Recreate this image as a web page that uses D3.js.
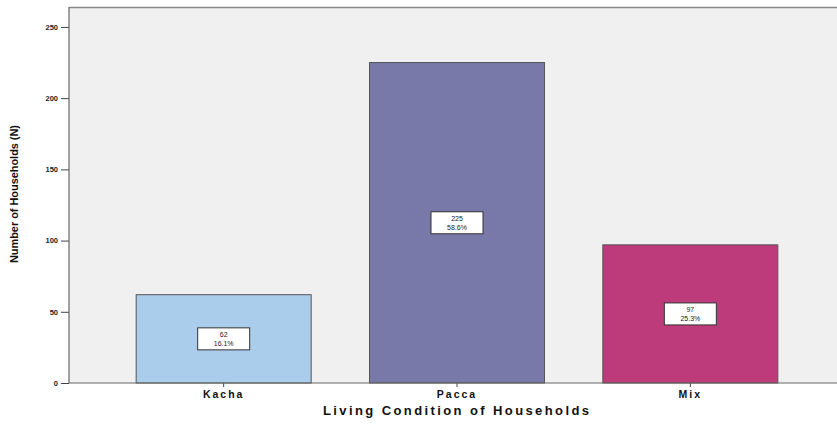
<!DOCTYPE html>
<html><head><meta charset="utf-8">
<script src="https://cdn.jsdelivr.net/npm/d3@7"></script>
<style>
html,body{margin:0;padding:0;background:#fff;}
svg{display:block;font-family:Arial, "Liberation Sans", sans-serif;}
</style></head>
<body>
<svg id="c" width="837" height="424"></svg>
<script>
const categories = ["Kacha", "Pacca", "Mix"];
const counts = [62, 225, 97];
const percents = ["16.1%", "58.6%", "25.3%"];
const yTicks = [0, 50, 100, 150, 200, 250];
const colors = ["#abcdec", "#7878a9", "#bd3a7b"];

(function () {
const svg = d3.select("#c");
const pLeft = 69, pRight = 837, pTop = 7, pBottom = 383;

const x = d3.scaleBand().domain(categories).range([107, 807]).paddingInner(0.25).paddingOuter(0.125);
const y = d3.scaleLinear().domain([0, 264]).range([pBottom, pTop]);

// plot background
svg.append("rect").attr("x", pLeft).attr("y", pTop).attr("width", pRight - pLeft).attr("height", pBottom - pTop)
  .attr("fill", "#f0f0f0");
svg.append("line").attr("x1", pLeft).attr("x2", pRight).attr("y1", pTop + 0.5).attr("y2", pTop + 0.5)
  .attr("stroke", "#8a8a8a").attr("stroke-width", 1.5);

// bars
svg.selectAll("rect.bar").data(categories).join("rect").attr("class", "bar")
  .attr("x", d => x(d)).attr("width", x.bandwidth())
  .attr("y", (d, i) => y(counts[i])).attr("height", (d, i) => y(0) - y(counts[i]))
  .attr("fill", (d, i) => colors[i]).attr("stroke", "#555").attr("stroke-width", 1);

// axes
const yAxis = d3.axisLeft(y).tickValues(yTicks).tickSize(8).tickPadding(3);
const gy = svg.append("g").attr("transform", `translate(${pLeft},0)`).call(yAxis);
gy.select(".domain").remove();
gy.selectAll(".tick line").attr("stroke", "#444");
gy.selectAll(".tick text").attr("font-size", 7.5).attr("font-weight", "bold").attr("fill", "#222");
svg.append("line").attr("x1", pLeft).attr("x2", pLeft).attr("y1", pTop).attr("y2", pBottom)
  .attr("stroke", "#666").attr("stroke-width", 1.2);

const xAxis = d3.axisBottom(x).tickSize(4).tickPadding(4);
const gx = svg.append("g").attr("transform", `translate(0,${pBottom})`).call(xAxis);
gx.select(".domain").remove();
gx.selectAll(".tick line").attr("stroke", "#444");
gx.selectAll(".tick text").attr("font-size", 10.5).attr("font-weight", "bold").attr("fill", "#111")
  .attr("letter-spacing", "2px");
svg.append("line").attr("x1", pLeft).attr("x2", pRight).attr("y1", pBottom).attr("y2", pBottom)
  .attr("stroke", "#666").attr("stroke-width", 1.2);

// axis titles
svg.append("text").attr("x", 456).attr("y", 415).attr("text-anchor", "middle")
  .attr("font-size", 13).attr("font-weight", "bold").attr("fill", "#111")
  .attr("textLength", 266).attr("lengthAdjust", "spacing")
  .text("Living Condition of Households");
svg.append("text").attr("transform", "translate(18,194) rotate(-90)").attr("text-anchor", "middle")
  .attr("font-size", 10).attr("font-weight", "bold").attr("fill", "#111")
  .attr("textLength", 138).attr("lengthAdjust", "spacingAndGlyphs")
  .text("Number of Households (N)");

// value labels
const lab = svg.selectAll("g.lab").data(categories).join("g").attr("class", "lab")
  .attr("transform", (d, i) => `translate(${x(d) + x.bandwidth() / 2},${(y(counts[i]) + y(0)) / 2})`);
lab.append("rect").attr("x", -26).attr("y", -11).attr("width", 52).attr("height", 22)
  .attr("fill", "#fff").attr("stroke", "#333").attr("stroke-width", 1);
lab.append("text").attr("y", -2).attr("text-anchor", "middle").attr("font-size", 7).attr("fill", "#222")
  .text((d, i) => counts[i]);
lab.append("text").attr("y", 7).attr("text-anchor", "middle").attr("font-size", 7).attr("fill", "#222")
  .text((d, i) => percents[i]);
})();
</script>
</body></html>
